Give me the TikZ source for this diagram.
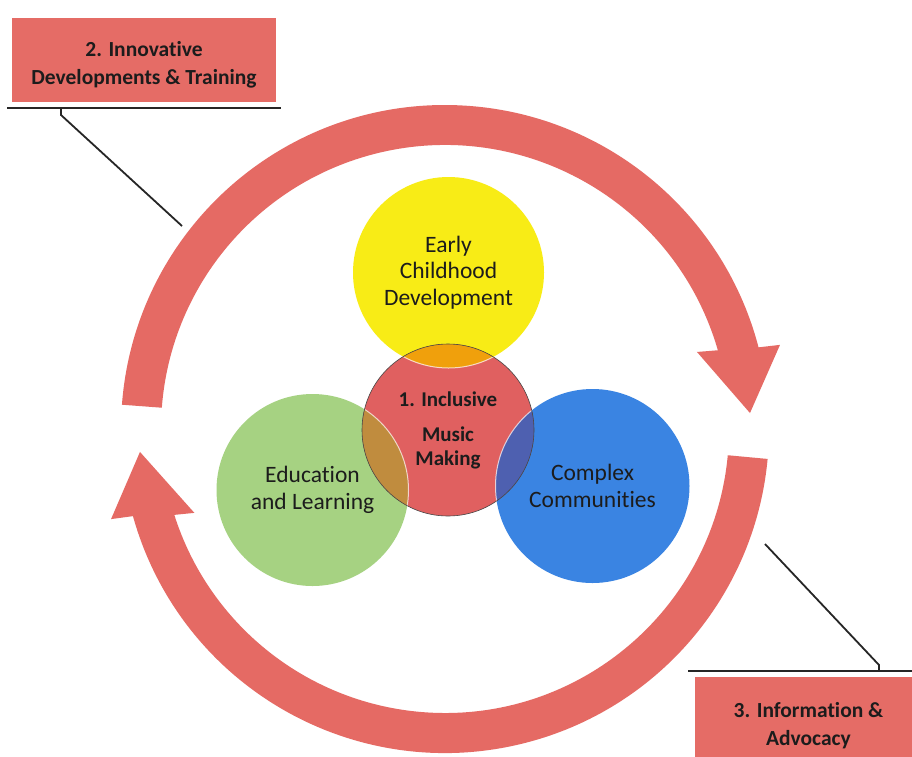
\documentclass[tikz,border=0pt]{standalone}
\usepackage{fontspec}
\setmainfont{Carlito}[Ligatures=NoCommon]
\usetikzlibrary{calc}
\definecolor{ringred}{RGB}{229,106,100}
\definecolor{boxred}{RGB}{229,108,102}
\definecolor{cred}{RGB}{224,96,96}
\definecolor{cyellow}{RGB}{248,236,22}
\definecolor{corange}{RGB}{240,160,12}
\definecolor{cgreen}{RGB}{166,210,130}
\definecolor{cbrown}{RGB}{192,140,62}
\definecolor{cblue}{RGB}{58,132,226}
\definecolor{cpurple}{RGB}{78,96,176}
\definecolor{textdark}{RGB}{28,28,28}
\begin{document}
\begin{tikzpicture}[x=1pt,y=1pt,
  boxnode/.style={fill=boxred, minimum height=84pt, inner sep=0pt, align=center,
    font=\fontsize{21.5}{28.5}\selectfont\bfseries, text=textdark},
  circ/.style={circle, inner sep=0pt, align=center,
    font=\fontsize{23.5}{26.5}\selectfont, text=textdark},
  rulestyle/.style={line width=2.4pt, black!85},
  leader/.style={line width=1.8pt, black!85}]
\useasboundingbox (0,0) rectangle (912,-756);
\clip (0,0) rectangle (912,-756);
\fill[white] (0,0) rectangle (912,-756);

% circular arrows
\begin{scope}[shift={(445,-429)}]
\fill[ringred] (175.7:324) arc[start angle=175.7,end angle=14.6,radius=324]
  -- (14.1:345.4) -- (3:305.4) -- (17:263.5) -- (16.1:284)
  arc[start angle=16.1,end angle=175.7,radius=284] -- cycle;
\fill[ringred] (-5.3:284) arc[start angle=-5.3,end angle=-162.4,radius=284]
  -- (-161.5:264.3) -- (-175.7:305.9) -- (-164.9:345.9) -- (-164.4:324)
  arc[start angle=-164.4,end angle=-5.3,radius=324] -- cycle;
\end{scope}

% circles
\node[circ, fill=cyellow, minimum size=191pt] (ecd) at (448.5,-272.5) {Early\\Childhood\\Development};
\node[circ, fill=cgreen, minimum size=192pt] (edu) at (312.5,-490) {Education\\and Learning};
\node[circ, fill=cblue, minimum size=194pt] (cc) at (592.5,-486) {Complex\\Communities};
\node[circ, fill=cred, minimum size=172pt, font=\fontsize{21}{24}\selectfont\bfseries] (imm) at (448,-430)
  {1. Inclusive\\[11pt]Music\\Making};

% overlaps
\begin{scope}
\clip (imm.center) circle[radius=86];
\fill[corange] (ecd.center) circle[radius=95.5];
\fill[cbrown] (edu.center) circle[radius=96];
\fill[cpurple] (cc.center) circle[radius=97];
\draw[white, line width=1pt, opacity=0.7] (ecd.center) circle[radius=95.5]
  (edu.center) circle[radius=96] (cc.center) circle[radius=97];
\end{scope}
\draw[gray!55!black, line width=0.6pt] (imm.center) circle[radius=86];

% boxes
\node[boxnode, minimum width=264pt] (b2) at (144,-59.5)
  {\rule{0pt}{25.3pt}2. Innovative\\Developments \& Training};
\node[boxnode, minimum width=227pt] (b3) at (808.5,-719)
  {\rule{0pt}{28.8pt}3. Information \&\\Advocacy};

% rules and leaders
\coordinate (r2a) at (7,-108);
\coordinate (r2b) at (281,-108);
\coordinate (k2) at (61,-108);
\coordinate (e2) at (182,-226);
\draw[rulestyle] (r2a) -- (r2b);
\draw[leader] (k2) -- ++(0,-7) -- (e2);

\coordinate (r3a) at (688,-671);
\coordinate (r3b) at (912,-671);
\coordinate (k3) at (879,-671);
\coordinate (e3) at (765,-544);
\draw[rulestyle] (r3a) -- (r3b);
\draw[leader] (k3) -- ++(0,6) -- (e3);
\end{tikzpicture}
\end{document}
